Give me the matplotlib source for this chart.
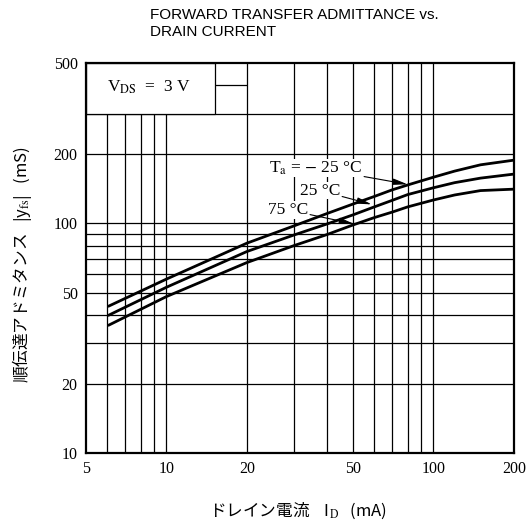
import matplotlib
matplotlib.use("Agg")
import matplotlib.pyplot as plt
from matplotlib.patches import Rectangle

# valori (Id in mA, |yfs| in mS)
id_ma = [6.1, 10, 20, 30, 40, 50, 60, 70, 80, 100, 120, 150, 200]
yfs_m25 = [43.7, 57.2, 82, 97.5, 110.5, 121.5, 131, 140, 147, 159, 169, 180, 188.6]
yfs_25 = [39.9, 52.7, 75.4, 89, 99.5, 109, 118, 126, 133.5, 143, 150.5, 157.5, 164]
yfs_75 = [36.1, 48, 67.5, 80, 89.5, 98.5, 106, 112, 118, 126.5, 133, 139, 141]

xticks = [5, 10, 20, 50, 100, 200]
yticks = [10, 20, 50, 100, 200, 500]

# linee della griglia (come nel datasheet)
xgrid = [6, 7, 8, 9, 10, 20, 30, 40, 50, 60, 70, 80, 90, 100]
ygrid = [20, 30, 40, 50, 60, 70, 80, 90, 100, 200, 300]

plt.rcParams["mathtext.fontset"] = "stix"
serif = ["Liberation Serif", "DejaVu Serif"]
jp = ["Noto Sans CJK JP", "Liberation Serif"]

fig = plt.figure(figsize=(5.26, 5.29), dpi=100)
ax = fig.add_axes([0.1635, 0.1437, 0.8135, 0.7373])
ax.set_xscale("log")
ax.set_yscale("log")
ax.set_xlim(5, 200)
ax.set_ylim(10, 500)

for g in xgrid:
    ax.axvline(g, color="k", lw=0.9, zorder=1)
for g in ygrid:
    ax.axhline(g, color="k", lw=0.9, zorder=1)
ax.hlines(400, 5, 20, color="k", lw=0.9, zorder=1)

# riquadro con la condizione di misura
ax.add_patch(Rectangle((5, 300), 10.2, 200, facecolor="white", edgecolor="k",
                       lw=0.9, zorder=2))
ax.text(8.6, 390, r"V$_\mathrm{DS}$  =  3 V", ha="center", va="center",
        family=serif, fontsize=12.5, zorder=3)

ax.plot(id_ma, yfs_m25, color="k", lw=2.0, zorder=3)
ax.plot(id_ma, yfs_25, color="k", lw=2.0, zorder=3)
ax.plot(id_ma, yfs_75, color="k", lw=2.0, zorder=3)

arr = dict(arrowstyle="-|>,head_length=0.7,head_width=0.15", color="k", lw=0.8,
           shrinkA=1, shrinkB=0)
box = dict(facecolor="white", edgecolor="none", pad=0.5)
ax.annotate(r"T$_\mathrm{a}$ = $-$ 25 °C", xy=(80, 148), xytext=(54, 174.5),
            ha="right", va="center", family=serif, fontsize=12.5,
            arrowprops=arr, bbox=box, zorder=4)
ax.annotate("25 °C", xy=(58.7, 121), xytext=(44.7, 139),
            ha="right", va="center", family=serif, fontsize=12.5,
            arrowprops=arr, bbox=box, zorder=4)
ax.annotate("75 °C", xy=(50.4, 99.5), xytext=(33.9, 114.5),
            ha="right", va="center", family=serif, fontsize=12.5,
            arrowprops=arr, bbox=box, zorder=4)

ax.set_xticks(xticks)
ax.set_xticklabels([str(t) for t in xticks], family=serif, fontsize=11.5)
ax.set_yticks(yticks)
ax.set_yticklabels([str(t) for t in yticks], family=serif, fontsize=11.5)
ax.minorticks_off()
ax.tick_params(length=0, pad=6)
for s in ax.spines.values():
    s.set_linewidth(1.6)

fig.text(0.285, 0.985, "FORWARD TRANSFER ADMITTANCE vs.\nDRAIN CURRENT",
         ha="left", va="top", family="Liberation Sans", fontsize=11,
         linespacing=1.25)

fig.text(0.042, 0.50, r"順伝達アドミタンス   |y$_\mathrm{fs}$|   (mS)",
         rotation=90, ha="center", va="center", family=jp, fontsize=12)
fig.text(0.567, 0.035, r"ドレイン電流    I$_\mathrm{D}$   (mA)",
         ha="center", va="center", family=jp, fontsize=12)

fig.savefig("out.png", dpi=100)
